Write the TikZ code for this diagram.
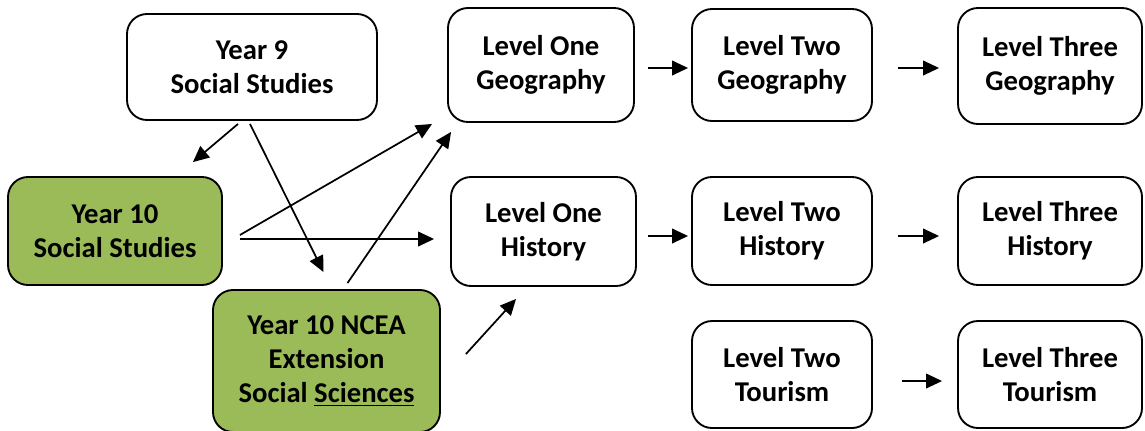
\documentclass[tikz,border=0pt]{standalone}
\usepackage{fontspec}
\setmainfont{Carlito}
\usetikzlibrary{arrows.meta}
\definecolor{leafgreen}{HTML}{9BBB59}
\begin{document}
\begin{tikzpicture}[x=0.75pt, y=-0.75pt,
    course/.style={draw, line width=1.4pt, rounded corners=15pt, align=center,
        inner sep=0pt, font=\bfseries\fontsize{21.5}{25.5}\selectfont},
    boxsize/.style 2 args={minimum width=#1*0.75pt, minimum height=#2*0.75pt},
    junior/.style={course, fill=leafgreen},
    arr/.style={-{Triangle[length=12pt,width=11pt]}, line width=1.3pt}]
    \useasboundingbox (0,0) rectangle (1145,430);

    % Junior courses
    \node[course, boxsize={250}{106}] (y9) at (252,67) {Year 9\\Social Studies};
    \node[junior, boxsize={214}{108}] (y10) at (115,231) {Year 10\\Social Studies};
    \node[junior, boxsize={227}{142}] (ncea) at (326.5,361) {Year 10 NCEA\\Extension\\Social \underline{Sciences}};

    % Geography
    \node[course, boxsize={186}{114}] (geo1) at (541,65) {Level One\\Geography};
    \node[course, boxsize={180}{112}] (geo2) at (782,65) {Level Two\\Geography};
    \node[course, boxsize={184}{116}] (geo3) at (1050,66) {Level Three\\Geography};

    % History
    \node[course, boxsize={185}{109}] (his1) at (543.5,231.5) {Level One\\History};
    \node[course, boxsize={180}{108}] (his2) at (782,231) {Level Two\\History};
    \node[course, boxsize={184}{108}] (his3) at (1050,231) {Level Three\\History};

    % Tourism
    \node[course, boxsize={180}{107}] (tou2) at (782,374.5) {Level Two\\Tourism};
    \node[course, boxsize={184}{107}] (tou3) at (1050,374.5) {Level Three\\Tourism};

    % From Year 9
    \draw[arr] ([shift={(-14,3)}]y9.south) -- ([shift={(-30,-14)}]y10.north east);
    \draw[arr] ([shift={(-2,3)}]y9.south) -- ([shift={(-3,-17)}]ncea.north);

    % From Year 10
    \draw[arr] ([shift={(17,4)}]y10.east) -- ([shift={(-15,1)}]geo1.south west);
    \draw[arr] ([shift={(17,8)}]y10.east) -- ([shift={(-16,7.5)}]his1.west);
    \draw[arr] ([shift={(21,-6)}]ncea.north) -- ([shift={(4,9)}]geo1.south west);
    \draw[arr] ([shift={(25,-7)}]ncea.east) -- ([shift={(66,12)}]his1.south west);

    % Senior pathways
    \draw[arr] ([shift={(13,3)}]geo1.east) -- ([shift={(-3,3)}]geo2.west);
    \draw[arr] ([shift={(25,3)}]geo2.east) -- ([shift={(-18,2)}]geo3.west);
    \draw[arr] ([shift={(11,4.5)}]his1.east) -- ([shift={(-3,5)}]his2.west);
    \draw[arr] ([shift={(25,5)}]his2.east) -- ([shift={(-18,5)}]his3.west);
    \draw[arr] ([shift={(29,6.5)}]tou2.east) -- ([shift={(-15,6.5)}]tou3.west);
\end{tikzpicture}
\end{document}
